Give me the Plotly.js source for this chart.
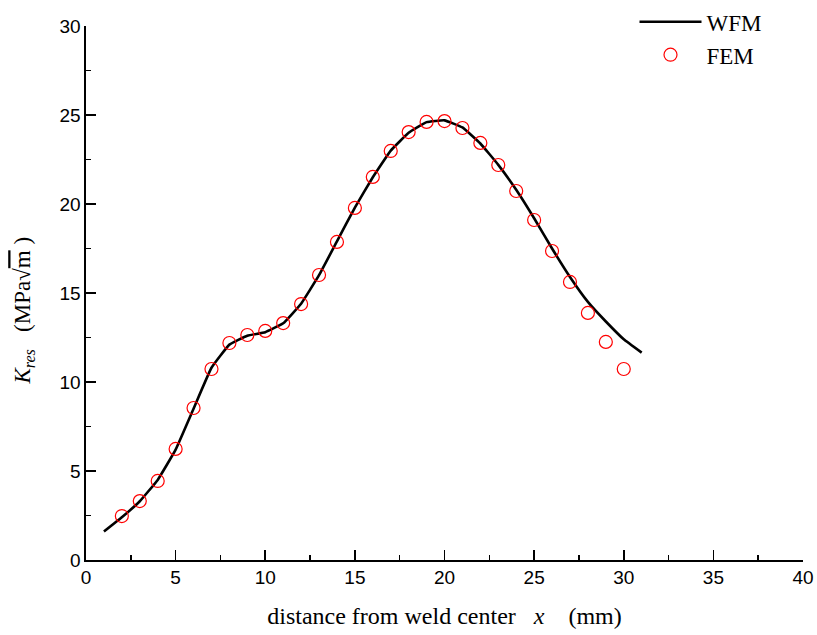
<!DOCTYPE html>
<html>
<head>
<meta charset="utf-8">
<script src="https://cdn.plot.ly/plotly-3.0.1.min.js"></script>
<style>html,body{margin:0;padding:0;background:#fff;}#chart{width:817px;height:635px;}</style>
</head>
<body>
<div id="chart"></div>
<script>
// WFM curve
var wfmX = [1,2,3,4,5,6,7,8,9,10,11,12,13,14,15,16,17,18,19,20,21,22,23,24,25,26,27,28,29,30,31];
var wfmY = [1.6,2.4,3.3,4.5,6.2,8.5,10.8,12.1,12.6,12.8,13.3,14.4,16.0,17.9,19.8,21.5,23.0,24.0,24.6,24.7,24.3,23.4,22.2,20.8,19.2,17.5,15.9,14.5,13.4,12.4,11.65];
// FEM points
var femX = [2,3,4,5,6,7,8,9,10,11,12,13,14,15,16,17,18,19,20,21,22,23,24,25,26,27,28,29,30];
var femY = [2.47,3.31,4.44,6.24,8.54,10.73,12.19,12.64,12.87,13.31,14.38,16.01,17.87,19.78,21.52,22.98,24.04,24.61,24.66,24.27,23.43,22.19,20.73,19.10,17.36,15.62,13.88,12.25,10.73];
var xTicks = [0,5,10,15,20,25,30,35,40];
var yTicks = [0,5,10,15,20,25,30];

var traces = [
  {x: wfmX, y: wfmY, type: 'scatter', mode: 'lines', name: 'WFM',
   line: {color: '#000', width: 2.6, shape: 'spline', smoothing: 0.3}},
  {x: femX, y: femY, type: 'scatter', mode: 'markers', name: 'FEM',
   marker: {symbol: 'circle-open', size: 13, color: '#ff0000', line: {width: 1.2, color: '#ff0000'}}}
];

var axisCommon = {
  showgrid: false, zeroline: false, showline: true, linecolor: '#000', linewidth: 1.6,
  ticks: 'inside', ticklen: 10, tickwidth: 1.6, tickcolor: '#000',
  tickfont: {family: 'Liberation Sans, Arial, sans-serif', size: 19, color: '#000'}
};

var layout = {
  width: 817, height: 635,
  margin: {l: 86, r: 14, t: 26, b: 75, autoexpand: false},
  paper_bgcolor: '#fff', plot_bgcolor: '#fff',
  showlegend: true,
  legend: {x: 0.765, y: 1.048, xanchor: 'left', yanchor: 'top', bgcolor: 'rgba(0,0,0,0)',
           font: {family: 'Liberation Serif, Times New Roman, serif', size: 23, color: '#000'},
           itemwidth: 62, tracegroupgap: 0},
  xaxis: Object.assign({}, axisCommon, {
    range: [0, 40], tickvals: xTicks, ticktext: xTicks.map(String),
    minor: {ticks: 'inside', ticklen: 5, tickwidth: 1.4, tickcolor: '#000', dtick: 2.5, tick0: 0},
    title: {text: 'distance from weld center   <i>x</i>    (mm)', standoff: 20,
            font: {family: 'Liberation Serif, Times New Roman, serif', size: 24, color: '#000'}}
  }),
  yaxis: Object.assign({}, axisCommon, {
    range: [0, 30], tickvals: yTicks, ticktext: yTicks.map(String),
    minor: {ticks: 'inside', ticklen: 5, tickwidth: 1.4, tickcolor: '#000', dtick: 2.5, tick0: 0},
    title: {text: '<i>K</i><sub><i>res</i></sub>   (MPa√<span style="text-decoration:overline">m</span> )&nbsp;&nbsp;&nbsp;&nbsp;&nbsp;&nbsp;', standoff: 22,
            font: {family: 'Liberation Serif, Times New Roman, serif', size: 23, color: '#000'}}
  })
};

Plotly.newPlot('chart', traces, layout, {displayModeBar: false, staticPlot: true});
</script>
</body>
</html>
